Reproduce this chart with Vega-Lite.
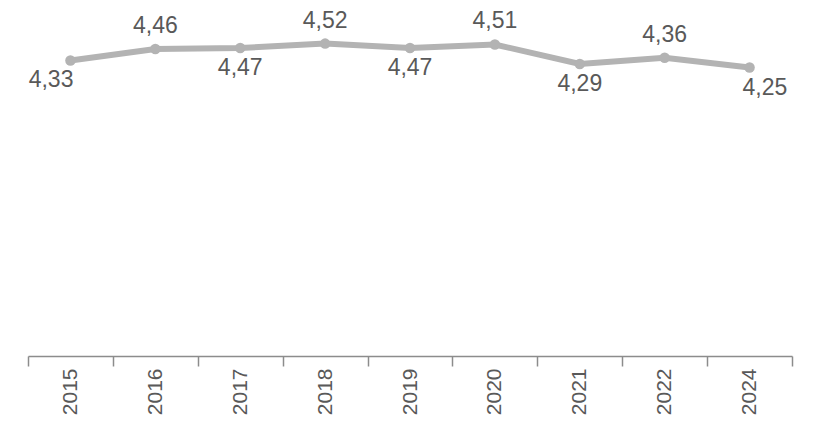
{
  "$schema": "https://vega.github.io/schema/vega-lite/v6.json",
  "autosize": {"type": "none"},
  "width": 764,
  "height": 355,
  "padding": {"left": 28, "top": 1, "right": 27, "bottom": 65},
  "background": "white",
  "config": {
    "view": {"stroke": null},
    "locale": {"number": {"decimal": ",", "thousands": ".", "grouping": [3], "currency": ["", " €"]}},
    "font": "Liberation Sans"
  },
  "data": {
    "values": [
      {"year": "2015", "value": 4.33},
      {"year": "2016", "value": 4.46},
      {"year": "2017", "value": 4.47},
      {"year": "2018", "value": 4.52},
      {"year": "2019", "value": 4.47},
      {"year": "2020", "value": 4.51},
      {"year": "2021", "value": 4.29},
      {"year": "2022", "value": 4.36},
      {"year": "2024", "value": 4.25}
    ]
  },
  "encoding": {
    "x": {
      "field": "year",
      "type": "nominal",
      "bandPosition": 0.5,
      "scale": {"type": "band", "paddingInner": 0, "paddingOuter": 0},
      "axis": {
        "title": null,
        "labelAngle": -90,
        "labelAlign": "right",
        "labelBaseline": "middle",
        "labelFontSize": 21,
        "labelColor": "#595959",
        "labelPadding": 2,
        "tickBand": "extent",
        "tickSize": 10,
        "tickColor": "#8c8c8c",
        "tickWidth": 1.5,
        "domainColor": "#8c8c8c",
        "domainWidth": 1.5,
        "grid": false
      }
    },
    "y": {
      "field": "value",
      "type": "quantitative",
      "scale": {"domain": [1, 5]},
      "axis": null
    }
  },
  "layer": [
    {"mark": {"type": "line", "color": "#b3b3b3", "strokeWidth": 6}},
    {"mark": {"type": "point", "filled": true, "color": "#b3b3b3", "size": 110, "opacity": 1}},
    {
      "transform": [{"filter": {"field": "year", "oneOf": ["2016", "2018", "2020", "2022"]}}],
      "mark": {"type": "text", "fontSize": 23, "color": "#595959", "baseline": "alphabetic", "dy": -16},
      "encoding": {"text": {"field": "value", "type": "quantitative", "format": ".2f"}}
    },
    {
      "transform": [{"filter": {"field": "year", "oneOf": ["2017", "2019", "2021"]}}],
      "mark": {"type": "text", "fontSize": 23, "color": "#595959", "baseline": "alphabetic", "dy": 27},
      "encoding": {"text": {"field": "value", "type": "quantitative", "format": ".2f"}}
    },
    {
      "transform": [{"filter": {"field": "year", "equal": "2015"}}],
      "mark": {"type": "text", "fontSize": 23, "color": "#595959", "baseline": "alphabetic", "align": "right", "dx": 3, "dy": 27},
      "encoding": {"text": {"field": "value", "type": "quantitative", "format": ".2f"}}
    },
    {
      "transform": [{"filter": {"field": "year", "equal": "2024"}}],
      "mark": {"type": "text", "fontSize": 23, "color": "#595959", "baseline": "alphabetic", "align": "left", "dx": -7, "dy": 27},
      "encoding": {"text": {"field": "value", "type": "quantitative", "format": ".2f"}}
    }
  ]
}
